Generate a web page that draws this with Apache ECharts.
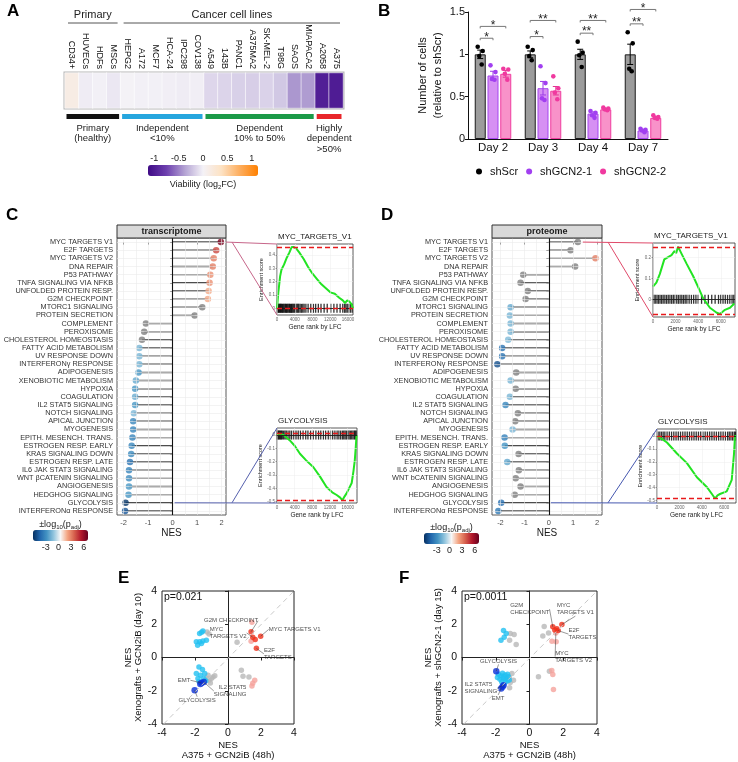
<!DOCTYPE html>
<html lang="en">
<head>
<meta charset="utf-8">
<title>GCN2 dependency figure</title>
<script src="https://cdn.jsdelivr.net/npm/echarts@6.0.0/dist/echarts.min.js"></script>
<style>
  html, body { margin: 0; padding: 0; background: #fff; }
  #chart { width: 738px; height: 762px; }
</style>
</head>
<body>
<div id="chart"></div>
<script>
// ---------- A: viability of cell lines ----------
const cellLines = ['CD34+', 'HUVECs', 'HDFs', 'MSCs', 'HEPG2', 'A172', 'MCF7', 'HCA-24', 'IPC298', 'COV138',
  'A549', '143B', 'PANC1', 'A375MA2', 'SK-MEL-2', 'T98G', 'SAOS', 'MIAPACA2', 'A2058', 'A375'];
const viability = [0.14, -0.03, -0.01, -0.05, 0.01, -0.01, -0.01, -0.02, -0.03, -0.02,
  -0.13, -0.14, -0.16, -0.17, -0.15, -0.2, -0.42, -0.4, -0.98, -1.0];
const originGroups = ['Primary', 'Cancer cell lines'];
const originSpans = [[0, 3], [4, 19]];
const dependencyGroups = ['Primary\n(healthy)', 'Independent\n<10%', 'Dependent\n10% to 50%', 'Highly\ndependent\n>50%'];
const dependencySpans = [[0, 3], [4, 9], [10, 17], [18, 19]];
const viabilityTicks = [-1, -0.5, 0, 0.5, 1];

// ---------- B: cell counts ----------
const days = ['Day 2', 'Day 3', 'Day 4', 'Day 7'];
const shScrMean = [1, 1, 1, 1];
const shScrSem = [0.05, 0.04, 0.06, 0.12];
const shScrDots = [[1.09, 1.04, 0.98, 0.88], [1.09, 1.05, 0.98, 0.93], [1.15, 1.02, 0.99, 0.85], [1.26, 1.13, 0.83, 0.80]];
const gcn1Mean = [0.75, 0.60, 0.30, 0.10];
const gcn1Sem = [0.05, 0.08, 0.02, 0.01];
const gcn1Dots = [[0.87, 0.79, 0.71, 0.70], [0.86, 0.66, 0.48, 0.46], [0.33, 0.31, 0.28, 0.25], [0.12, 0.11, 0.10, 0.08]];
const gcn2Mean = [0.77, 0.57, 0.35, 0.25];
const gcn2Sem = [0.04, 0.05, 0.01, 0.01];
const gcn2Dots = [[0.83, 0.82, 0.77, 0.70], [0.74, 0.60, 0.55, 0.47], [0.37, 0.36, 0.35, 0.34], [0.28, 0.26, 0.25, 0.24]];
const sigDay = [0, 0, 1, 1, 2, 2, 3, 3];
const sigTo = [1, 2, 1, 2, 1, 2, 1, 2];
const sigY = [1.19, 1.33, 1.21, 1.40, 1.25, 1.40, 1.36, 1.53];
const sigText = ['*', '*', '*', '**', '**', '**', '**', '*'];

// ---------- C / D: hallmark NES ----------
const pathwaysC = ['MYC TARGETS V1', 'E2F TARGETS', 'MYC TARGETS V2', 'DNA REPAIR', 'P53 PATHWAY', 'TNFA SIGNALING VIA NFKB',
  'UNFOLDED PROTEIN RESP.', 'G2M CHECKPOINT', 'MTORC1 SIGNALING', 'PROTEIN SECRETION', 'COMPLEMENT', 'PEROXISOME',
  'CHOLESTEROL HOMEOSTASIS', 'FATTY ACID METABOLISM', 'UV RESPONSE DOWN', 'INTERFERONγ RESPONSE', 'ADIPOGENESIS',
  'XENOBIOTIC METABOLISM', 'HYPOXIA', 'COAGULATION', 'IL2 STAT5 SIGNALING', 'NOTCH SIGNALING', 'APICAL JUNCTION',
  'MYOGENESIS', 'EPITH. MESENCH. TRANS.', 'ESTROGEN RESP. EARLY', 'KRAS SIGNALING DOWN', 'ESTROGEN RESP. LATE',
  'IL6 JAK STAT3 SIGNALING', 'WNT βCATENIN SIGNALING', 'ANGIOGENESIS', 'HEDGHOG SIGNALING', 'GLYCOLYSIS', 'INTERFERONα RESPONSE'];
const pathwaysD = pathwaysC.map(p => p === 'WNT βCATENIN SIGNALING' ? 'WNT bCATENIN SIGNALING' : p);
const nesTranscriptome = [1.97, 1.78, 1.68, 1.64, 1.54, 1.51, 1.47, 1.44, 1.21, 0.90, -1.09, -1.16, -1.25, -1.36, -1.36, -1.36,
  -1.39, -1.50, -1.53, -1.53, -1.53, -1.58, -1.61, -1.61, -1.64, -1.67, -1.69, -1.74, -1.78, -1.78, -1.78, -1.80, -1.92, -1.94];
const padjTranscriptome = [6.5, 4.3, 3.0, 3.0, 2.6, 2.6, 2.0, 2.0, 1.0, 0.7, -0.8, -0.9, -1.0, -1.6, -1.6, -1.6,
  -2.6, -2.0, -2.6, -1.9, -2.6, -1.5, -3.2, -3.2, -3.3, -3.2, -3.0, -3.8, -3.3, -3.0, -2.6, -2.6, -5.8, -4.8];
const nesProteome = [1.20, 0.90, 1.93, 1.09, -1.06, -1.17, -0.87, -0.96, -1.58, -1.61, -1.58, -1.58, -1.68, -1.93, -1.93, -2.13,
  -1.35, -1.58, -1.37, -1.61, -1.79, -1.28, -1.39, -1.50, -1.83, -1.82, -1.25, -1.72, -1.24, -1.37, -1.17, -1.41, -1.97, -2.09];
const padjProteome = [1.0, 0.8, 3.0, 1.0, -0.9, -1.0, -0.7, -0.8, -2.0, -1.6, -1.6, -1.6, -1.45, -3.8, -3.8, -5.0,
  -1.0, -1.6, -1.0, -1.6, -3.2, -0.9, -1.0, -1.5, -3.4, -2.7, -0.9, -2.1, -0.9, -1.0, -0.8, -1.0, -4.0, -3.6];
const nesTicks = [-2, -1, 0, 1, 2];
const nesGrid = [-2, -1.5, -1, -0.5, 0.5, 1, 1.5, 2];
const padjTicks = [-3, 0, 3, 6];
const PADJ_CUTOFF = 1.3;

// ---------- GSEA insets ----------
const esMycTx = [[0, 0], [300, 0.12], [700, 0.24], [1000, 0.29], [1600, 0.33], [2200, 0.38], [2800, 0.42], [3300, 0.46], [3800, 0.46],
  [4300, 0.45], [5000, 0.42], [6000, 0.37], [7000, 0.31], [8000, 0.26], [9000, 0.22], [10000, 0.18], [11000, 0.15], [12000, 0.12],
  [13000, 0.11], [14000, 0.08], [14800, 0.06], [15300, 0.04], [15800, 0.06], [16300, 0.05], [16800, 0.03], [17100, 0.0]];
const hitsMycTx = [150, 300, 420, 600, 750, 900, 1050, 1250, 1400, 1600, 1800, 1950, 2150, 2300, 2500, 2700, 2850, 3050, 3250,
  3400, 3600, 3800, 4000, 4250, 4500, 4700, 4900, 5200, 5500, 5800, 6100, 6500, 7000, 7600, 8200, 8700, 9300, 9900, 10600,
  11300, 12100, 12800, 13500, 14200, 14800, 15200, 15500, 15800, 16100, 16500, 16900];
const esGlyTx = [[0, 0], [600, 0.01], [1500, 0.0], [2900, -0.04], [4000, -0.08], [5200, -0.14], [6600, -0.19], [8200, -0.24],
  [9700, -0.31], [11200, -0.39], [12500, -0.43], [13500, -0.45], [14300, -0.47], [14800, -0.49], [15300, -0.46], [15700, -0.44],
  [16300, -0.40], [16900, -0.36], [17300, -0.27], [17600, -0.19], [17800, -0.10], [18000, 0]];
const hitsGlyTx = [100, 250, 400, 600, 800, 1000, 1200, 1500, 1800, 2100, 2500, 2900, 3300, 3800, 4300, 4800, 5300, 5900, 6500,
  7000, 7600, 8200, 8800, 9400, 9900, 10500, 11000, 11600, 12100, 12600, 13100, 13600, 14000, 14400, 14800, 15100, 15400,
  15700, 16000, 16300, 16600, 16900, 17200, 17500, 17700, 17900];
const esMycPr = [[0, 0.06], [300, 0.08], [600, 0.12], [1000, 0.19], [1300, 0.2], [1640, 0.21], [1900, 0.23], [2050, 0.22],
  [2220, 0.25], [2500, 0.22], [2970, 0.17], [3560, 0.11], [4150, 0.04], [4440, 0.005], [5040, -0.04], [5640, -0.064],
  [5930, -0.07], [6370, -0.05], [6820, -0.04], [7200, -0.02]];
const hitsMycPr = [80, 200, 350, 480, 620, 760, 900, 1050, 1200, 1350, 1500, 1650, 1800, 1950, 2100, 2250, 2400, 2550, 2700,
  2850, 3000, 3200, 3400, 3600, 3800, 4000, 4300, 4600, 4900, 5200, 5500, 5800, 6000, 6200, 6400, 6600, 6800, 7000, 7150];
const esGlyPr = [[0, 0], [400, -0.02], [890, -0.05], [1780, -0.135], [2670, -0.21], [3560, -0.32], [4440, -0.395], [4900, -0.45],
  [5180, -0.485], [5400, -0.46], [5620, -0.45], [6220, -0.43], [6670, -0.34], [6870, -0.14], [6960, 0], [7050, 0.0]];
const hitsGlyPr = [100, 250, 400, 550, 700, 900, 1100, 1300, 1500, 1700, 1900, 2100, 2300, 2500, 2700, 2900, 3100, 3300, 3500,
  3700, 3900, 4100, 4300, 4500, 4700, 4900, 5100, 5300, 5500, 5700, 5900, 6100, 6300, 6450, 6600, 6750, 6900, 7000];
const rankTicksTx = [0, 4000, 8000, 12000, 16000];
const rankTicksPr = [0, 2000, 4000, 6000];

// ---------- E / F: xenograft vs in vitro NES ----------
const eUp = [[1.40, 1.55], [1.98, 1.28], [1.65, 1.08], [1.50, 1.22], [1.72, 0.55]];
const eUpLight = [[1.45, 2.12], [1.40, 0.98], [1.62, -1.37], [1.50, -1.55], [1.45, -1.72]];
const eNs = [[-1.27, 1.54], [-1.15, 1.42], [0.55, 0.92], [0.81, -0.77], [0.91, -1.13], [1.27, -1.17], [-1.15, -1.37],
  [-1.01, -1.27], [-0.91, -1.17], [-1.21, -1.07], [-0.80, -1.10], [-1.07, -1.53], [-1.30, -1.25]];
const eDown = [[-1.52, 1.60], [-1.72, 1.45], [-1.60, 1.52], [-1.92, 0.94], [-1.72, 0.94], [-1.52, 1.0], [-1.31, 1.04],
  [-1.61, 0.84], [-1.84, 0.74], [-1.76, -0.57], [-1.55, -0.72], [-1.92, -0.96], [-1.67, -1.07], [-1.41, -0.96],
  [-1.82, -1.27], [-1.47, -1.27], [-1.35, -1.40], [-1.75, -1.45]];
const eDownStrong = [[-1.61, -1.53], [-1.47, -1.47], [-1.68, -1.60], [-2.02, -1.97]];
const fUp = [[1.38, 1.85], [1.62, 1.73], [1.92, 1.99], [1.70, 1.62], [1.50, 1.65]];
const fUpLight = [[1.56, 1.47], [1.33, 0.98], [1.58, 0.95], [1.32, -0.78], [1.38, -1.02], [1.42, -1.92]];
const fNs = [[0.87, 1.87], [0.79, 1.29], [1.13, 1.48], [0.53, -1.16], [1.18, -0.82], [-1.14, 1.44], [-0.91, 1.38], [-1.18, 1.04],
  [-0.79, 0.78], [-1.04, -0.96], [-1.14, -1.5], [-0.95, -1.36], [-1.18, -1.82], [-1.2, -1.2]];
const fDown = [[-1.54, 1.63], [-1.38, 1.44], [-1.69, 1.04], [-1.50, 1.22], [-1.85, -1.0], [-1.7, -1.1], [-1.6, -0.95],
  [-1.45, -1.05], [-1.3, -1.0], [-1.75, -1.3], [-1.55, -1.25], [-1.4, -1.3], [-1.25, -1.15], [-1.65, -1.45], [-1.45, -1.5],
  [-1.3, -1.4], [-1.9, -1.2], [-1.2, -1.35], [-1.55, -1.15]];
const fDownStrong = [[-1.97, -0.82], [-1.54, -1.66], [-1.68, -1.86], [-1.60, -1.75]];

// ---------- style ----------
const FONT = '"Liberation Sans", Arial, Helvetica, sans-serif';
const RDBU = ['#053061', '#2166ac', '#4393c3', '#92c5de', '#f7f7f7', '#f4a582', '#d6604d', '#b2182b', '#67001f'];
const PURPLE_ORANGE = ['#3f0a86', '#6d3fae', '#b3a2d3', '#f4f2f7', '#fde2c4', '#fdae5f', '#ff8000'];
const DEP_COLORS = ['#111111', '#26a6de', '#1b9a48', '#e8262b'];
const BAR_STEP = 12.8;
const DOT_JITTER = [-2.5, 2.5, -1, 1.5];

const chart = echarts.init(document.getElementById('chart'));
const grids = [], xAxes = [], yAxes = [], series = [], visualMaps = [], graphics = [];

function addPanel(grid, xAxis, yAxis) {
  const gi = grids.length;
  grids.push(grid);
  xAxes.push(Object.assign({ gridIndex: gi }, xAxis));
  yAxes.push(Object.assign({ gridIndex: gi }, yAxis));
  return gi;
}
function addSeries(s) { series.push(s); return series.length - 1; }
function txt(x, y, text, o) {
  return { type: 'text', x, y, silent: true, z: 20,
    style: Object.assign({ text, fill: '#1a1a1a', fontSize: 9, fontFamily: FONT, align: 'left', verticalAlign: 'middle' }, o || {}) };
}
function gridLineSeries(ai, xs, ys, color, width, z) {
  const data = xs.map(v => ({ xAxis: v })).concat(ys.map(v => ({ yAxis: v })));
  return { type: 'line', xAxisIndex: ai, yAxisIndex: ai, data: [], z: z || 1, silent: true,
    markLine: { silent: true, symbol: 'none', animation: false, label: { show: false },
      lineStyle: { color, width, type: 'solid' }, data } };
}
const hiddenValueAxis = { type: 'value', show: false, min: 0, max: 1 };
const subRich = { sub: { fontSize: 6, verticalAlign: 'bottom', padding: [4, 0, 0, 0] } };

// ================= A =================
const gA = addPanel({ left: 65, top: 73, width: 278, height: 35, show: true, borderColor: '#b5b5b5', borderWidth: 3 },
  { type: 'category', data: cellLines, position: 'top', axisLine: { show: false }, axisTick: { show: false },
    axisLabel: { rotate: 90, interval: 0, fontSize: 9, margin: 4, color: '#111' } },
  { type: 'category', data: ['viability'], show: false });
const sHeat = addSeries({ type: 'heatmap', xAxisIndex: gA, yAxisIndex: gA, data: viability.map((v, i) => [i, 0, v]),
  itemStyle: { borderColor: '#ffffff', borderWidth: 0.6 }, emphasis: { disabled: true } });
visualMaps.push({ type: 'continuous', seriesIndex: sHeat, min: -1.13, max: 1.13, orient: 'horizontal', left: 148, top: 165,
  itemWidth: 11, itemHeight: 110, calculable: false, padding: 0, inRange: { color: PURPLE_ORANGE } });
addSeries({ type: 'custom', xAxisIndex: gA, yAxisIndex: gA, clip: false, silent: true, z: 5,
  data: originSpans.map(s => [s[0], 0, s[1]]),
  renderItem(params, api) {
    const cs = params.coordSys, band = api.size([1, 0])[0];
    const x1 = api.coord([api.value(0), 0])[0] - band / 2 + 3;
    const x2 = api.coord([api.value(2), 0])[0] + band / 2 - 3;
    const y = cs.y - 50;
    return { type: 'group', children: [
      { type: 'line', shape: { x1, y1: y, x2, y2: y }, style: { stroke: '#555', lineWidth: 1 } },
      { type: 'text', x: (x1 + x2) / 2, y: y - 3, style: { text: originGroups[params.dataIndex], fill: '#222', fontSize: 11,
        fontFamily: FONT, align: 'center', verticalAlign: 'bottom' } }
    ] };
  } });
addSeries({ type: 'custom', xAxisIndex: gA, yAxisIndex: gA, clip: false, silent: true, z: 5,
  data: dependencySpans.map(s => [s[0], 0, s[1]]),
  renderItem(params, api) {
    const cs = params.coordSys, band = api.size([1, 0])[0];
    const x1 = api.coord([api.value(0), 0])[0] - band / 2 + 1.5;
    const x2 = api.coord([api.value(2), 0])[0] + band / 2 - 1.5;
    const y = cs.y + cs.height + 6;
    return { type: 'group', children: [
      { type: 'rect', shape: { x: x1, y, width: x2 - x1, height: 5 }, style: { fill: DEP_COLORS[params.dataIndex] } },
      { type: 'text', x: (x1 + x2) / 2, y: y + 9, style: { text: dependencyGroups[params.dataIndex], fill: '#222', fontSize: 9.5,
        lineHeight: 10.5, fontFamily: FONT, align: 'center', verticalAlign: 'top' } }
    ] };
  } });
addPanel({ left: 148, top: 165, width: 110, height: 11 },
  { type: 'value', min: -1.13, max: 1.13, position: 'top', axisLine: { show: false }, splitLine: { show: false },
    axisTick: { show: false }, axisLabel: { customValues: viabilityTicks, fontSize: 9, margin: 2, color: '#222' } },
  hiddenValueAxis);

// ================= B =================
const gB = addPanel({ left: 468, top: 12, width: 200, height: 127 },
  { type: 'category', data: days, axisLine: { lineStyle: { color: '#111' } }, axisTick: { show: false },
    axisLabel: { fontSize: 11.5, color: '#111', margin: 3 } },
  { type: 'value', min: 0, max: 1.5, interval: 0.5, axisLine: { show: true, lineStyle: { color: '#111' } },
    axisTick: { show: true, length: 3, lineStyle: { color: '#111' } }, axisLabel: { fontSize: 11, color: '#111', margin: 3 },
    splitLine: { show: false }, name: 'Number of cells\n(relative to shScr)', nameLocation: 'middle', nameGap: 21,
    nameTextStyle: { fontSize: 11, lineHeight: 15, color: '#111' } });
const groupsB = [
  { name: 'shScr', mean: shScrMean, sem: shScrSem, dots: shScrDots, fill: '#9c9c9c', border: '#1a1a1a', dot: '#000000', err: '#000000' },
  { name: 'shGCN2-1', mean: gcn1Mean, sem: gcn1Sem, dots: gcn1Dots, fill: '#d690f3', border: '#a546ee', dot: '#a13ff0', err: '#9b3be6' },
  { name: 'shGCN2-2', mean: gcn2Mean, sem: gcn2Sem, dots: gcn2Dots, fill: '#f892c9', border: '#ef3d9f', dot: '#f0399f', err: '#e33593' }
];
groupsB.forEach(g => addSeries({ type: 'bar', name: g.name, xAxisIndex: gB, yAxisIndex: gB, data: g.mean, barWidth: 11,
  barGap: '16%', z: 2, itemStyle: { color: g.fill, borderColor: g.border, borderWidth: 1 }, emphasis: { disabled: true } }));
groupsB.forEach((g, gi) => addSeries({ type: 'custom', name: g.name + ' replicates', xAxisIndex: gB, yAxisIndex: gB, z: 3,
  silent: true, clip: false, encode: { x: 0, y: 1 },
  data: days.map((d, i) => [i, g.mean[i], g.sem[i]].concat(g.dots[i])),
  renderItem(params, api) {
    const day = api.value(0), m = api.value(1), s = api.value(2);
    const top = api.coord([day, m + s]), bot = api.coord([day, m - s]);
    const x = top[0] + (gi - 1) * BAR_STEP;
    const st = { stroke: g.err, lineWidth: 1 };
    const children = [
      { type: 'line', shape: { x1: x, y1: top[1], x2: x, y2: bot[1] }, style: st },
      { type: 'line', shape: { x1: x - 3, y1: top[1], x2: x + 3, y2: top[1] }, style: st },
      { type: 'line', shape: { x1: x - 3, y1: bot[1], x2: x + 3, y2: bot[1] }, style: st }
    ];
    for (let k = 0; k < 4; k++) {
      const p = api.coord([day, api.value(3 + k)]);
      children.push({ type: 'circle', shape: { cx: x + DOT_JITTER[k], cy: p[1], r: 2.3 }, style: { fill: g.dot } });
    }
    return { type: 'group', children };
  } }));
addSeries({ type: 'custom', name: 'significance', xAxisIndex: gB, yAxisIndex: gB, z: 4, silent: true, clip: false,
  encode: { x: 0, y: 1 }, data: sigDay.map((d, i) => [d, sigY[i], sigTo[i]]),
  renderItem(params, api) {
    const p = api.coord([api.value(0), api.value(1)]);
    const x1 = p[0] - BAR_STEP, x2 = p[0] + (api.value(2) - 1) * BAR_STEP, y = p[1];
    return { type: 'group', children: [
      { type: 'polyline', shape: { points: [[x1, y + 2], [x1, y], [x2, y], [x2, y + 2]] }, style: { stroke: '#777', lineWidth: 1, fill: null } },
      { type: 'text', x: (x1 + x2) / 2, y: y - 1, style: { text: sigText[params.dataIndex], fill: '#222', fontSize: 12,
        fontFamily: FONT, align: 'center', verticalAlign: 'middle' } }
    ] };
  } });

// ================= C / D =================
function lollipopPanel(left, width, xr, pathways, nes, padj, cbLeft, cbTop) {
  const rows = pathways.map((p, i) => i);
  const gi = addPanel({ left, top: 238, width, height: 277, show: true, borderColor: '#5a5a5a', borderWidth: 1 },
    { type: 'value', min: xr[0], max: xr[1], axisLine: { show: false }, splitLine: { show: false },
      axisTick: { customValues: nesTicks, length: 2.5, lineStyle: { color: '#333' } },
      axisLabel: { customValues: nesTicks, fontSize: 7.5, color: '#4d4d4d', margin: 4 },
      name: 'NES', nameLocation: 'middle', nameGap: 13, nameTextStyle: { fontSize: 10, color: '#1a1a1a' } },
    { type: 'value', min: -0.5, max: pathways.length - 0.5, inverse: true, axisLine: { show: false }, splitLine: { show: false },
      axisTick: { customValues: rows, length: 2.5, lineStyle: { color: '#333' } },
      axisLabel: { customValues: rows, formatter: v => pathways[v], fontSize: 7.3, color: '#333', margin: 4 } });
  addSeries(gridLineSeries(gi, nesGrid, rows, '#ebebeb', 0.6, 1));
  addSeries(gridLineSeries(gi, [0], [], '#111', 1.1, 2));
  addSeries({ type: 'custom', xAxisIndex: gi, yAxisIndex: gi, z: 3, silent: true, encode: { x: 0, y: 1 },
    data: nes.map((v, i) => [v, i]),
    renderItem(params, api) {
      const p0 = api.coord([0, api.value(1)]), p1 = api.coord([api.value(0), api.value(1)]);
      return { type: 'line', shape: { x1: p0[0], y1: p0[1], x2: p1[0], y2: p1[1] }, style: { stroke: '#4d4d4d', lineWidth: 1.4 } };
    } });
  const sig = addSeries({ type: 'scatter', xAxisIndex: gi, yAxisIndex: gi, z: 4, symbolSize: 6.5, silent: true,
    data: nes.map((v, i) => [v, i, padj[i]]).filter(d => Math.abs(d[2]) >= PADJ_CUTOFF) });
  addSeries({ type: 'scatter', xAxisIndex: gi, yAxisIndex: gi, z: 4, symbolSize: 6.5, silent: true, itemStyle: { color: '#808080' },
    data: nes.map((v, i) => [v, i, padj[i]]).filter(d => Math.abs(d[2]) < PADJ_CUTOFF) });
  visualMaps.push({ type: 'continuous', seriesIndex: sig, dimension: 2, min: -6, max: 7, orient: 'horizontal', left: cbLeft,
    top: cbTop, itemWidth: 11, itemHeight: 55, calculable: false, padding: 0, inRange: { color: RDBU } });
  addPanel({ left: cbLeft, top: cbTop, width: 55, height: 11 },
    { type: 'value', min: -6, max: 7, axisLine: { show: false }, splitLine: { show: false }, axisTick: { show: false },
      axisLabel: { customValues: padjTicks, fontSize: 9, margin: 2, color: '#222' } },
    hiddenValueAxis);
  graphics.push(
    { type: 'rect', silent: true, z: 20, shape: { x: left, y: 225, width, height: 13 }, style: { fill: '#d9d9d9', stroke: '#333', lineWidth: 1 } },
    txt(left + width / 2, 231.5, gi === 3 ? 'transcriptome' : 'proteome', { align: 'center', fontWeight: 'bold', fontSize: 9 }),
    txt(cbLeft + 27.5, cbTop - 5, '±log{sub|10}(p{sub|adj})', { align: 'center', rich: subRich, fontSize: 9 })
  );
  return gi;
}
const gC = lollipopPanel(117, 109, [-2.27, 2.18], pathwaysC, nesTranscriptome, padjTranscriptome, 33, 530);
const gD = lollipopPanel(492, 110, [-2.35, 2.2], pathwaysD, nesProteome, padjProteome, 424, 533);

// ================= GSEA insets =================
const insets = [
  { rect: { left: 277, top: 244, width: 76, height: 71 }, title: 'MYC_TARGETS_V1', xr: [0, 17100], xt: rankTicksTx,
    yr: [-0.05, 0.483], yt: [0, 0.1, 0.2, 0.3, 0.4], es: esMycTx, hits: hitsMycTx },
  { rect: { left: 277, top: 428, width: 80, height: 75 }, title: 'GLYCOLYSIS', xr: [0, 18100], xt: rankTicksTx,
    yr: [-0.51, 0.053], yt: [0, -0.1, -0.2, -0.3, -0.4, -0.5], es: esGlyTx, hits: hitsGlyTx },
  { rect: { left: 653, top: 243, width: 82, height: 74 }, title: 'MYC_TARGETS_V1', xr: [0, 7260], xt: rankTicksPr,
    yr: [-0.084, 0.268], yt: [0, 0.1, 0.2], es: esMycPr, hits: hitsMycPr },
  { rect: { left: 657, top: 429, width: 79, height: 74 }, title: 'GLYCOLYSIS', xr: [0, 7050], xt: rankTicksPr,
    yr: [-0.52, 0.055], yt: [0, -0.1, -0.2, -0.3, -0.4, -0.5], es: esGlyPr, hits: hitsGlyPr }
];
insets.forEach(ins => {
  const small = { fontSize: 4.5, color: '#666', margin: 2, formatter: v => String(v) };
  const gi = addPanel(Object.assign({ show: true, borderColor: '#333', borderWidth: 0.8 }, ins.rect),
    { type: 'value', min: ins.xr[0], max: ins.xr[1], axisLine: { show: false }, splitLine: { show: false },
      axisTick: { customValues: ins.xt, length: 1.5, lineStyle: { color: '#555', width: 0.5 } },
      axisLabel: Object.assign({ customValues: ins.xt }, small),
      name: 'Gene rank by LFC', nameLocation: 'middle', nameGap: 9, nameTextStyle: { fontSize: 6.5, color: '#222' } },
    { type: 'value', min: ins.yr[0], max: ins.yr[1], axisLine: { show: false }, splitLine: { show: false },
      axisTick: { customValues: ins.yt, length: 1.5, lineStyle: { color: '#555', width: 0.5 } },
      axisLabel: Object.assign({ customValues: ins.yt }, small),
      name: 'Enrichment score', nameLocation: 'middle', nameGap: 7.5, nameTextStyle: { fontSize: 5.5, color: '#222' } });
  addSeries(gridLineSeries(gi, ins.xt, ins.yt, '#ececec', 0.5, 1));
  addSeries({ type: 'scatter', xAxisIndex: gi, yAxisIndex: gi, z: 3, silent: true, symbol: 'rect', symbolSize: [1.3, 9],
    itemStyle: { color: '#000' }, data: ins.hits.map(r => [r, 0]),
    markLine: { silent: true, symbol: 'none', animation: false, label: { show: false },
      lineStyle: { color: '#000', width: 0.8, type: 'solid' }, data: [{ yAxis: 0 }] } });
  addSeries({ type: 'line', xAxisIndex: gi, yAxisIndex: gi, z: 4, silent: true, showSymbol: false, data: ins.es,
    lineStyle: { color: '#22e422', width: 2 },
    markLine: { silent: true, symbol: 'none', animation: false, label: { show: false },
      lineStyle: { color: '#e8191b', width: 1.4, type: [5, 3] }, data: [{ type: 'max' }, { type: 'min' }] } });
  graphics.push(txt(ins.rect.left + 1, ins.rect.top - 7.5, ins.title, { fontSize: 8, fill: '#222' }));
});

// ================= E / F =================
function scatterPanel(left, width, height, yName, sets, annotations) {
  const axisBase = { type: 'value', min: -4, max: 4, interval: 2, axisLine: { show: true, lineStyle: { color: '#222' } },
    axisTick: { show: true, length: 3, lineStyle: { color: '#222' } }, splitLine: { show: false },
    nameLocation: 'middle', nameTextStyle: { fontSize: 9.5, lineHeight: 10.5, color: '#111' } };
  const gi = addPanel({ left, top: 591, width, height, show: true, borderColor: '#222', borderWidth: 1 },
    Object.assign({}, axisBase, { name: 'NES\nA375 + GCN2iB (48h)', nameGap: 14, axisLabel: { fontSize: 10.5, color: '#111', margin: 4 } }),
    Object.assign({}, axisBase, { name: 'NES\n' + yName, nameGap: 18, axisLabel: { fontSize: 10.5, color: '#111', margin: 5 } }));
  addSeries({ type: 'line', xAxisIndex: gi, yAxisIndex: gi, data: [], z: 1, silent: true,
    markLine: { silent: true, symbol: 'none', animation: false, label: { show: false },
      lineStyle: { color: '#c9c9c9', width: 1, type: [5, 4] }, data: [[{ coord: [-3.9, -4] }, { coord: [4, 4] }]] } });
  const styles = [['ns', '#b8b8b8', 5.5], ['upLight', '#f5a39c', 5.5], ['up', '#f0301a', 5.5], ['down', '#22c1f1', 5.5], ['downStrong', '#0a2fd8', 6.5]];
  styles.forEach(s => addSeries({ type: 'scatter', xAxisIndex: gi, yAxisIndex: gi, z: 3, silent: true, symbolSize: s[2],
    itemStyle: { color: s[1] }, data: sets[s[0]] }));
  addSeries({ type: 'scatter', xAxisIndex: gi, yAxisIndex: gi, z: 5, silent: true, symbolSize: 0.1,
    itemStyle: { color: 'rgba(0,0,0,0)' },
    data: annotations.map(a => ({ value: sets[a.set][a.i], name: a.text })),
    label: { show: true, position: 'inside', formatter: '{b}', fontSize: 6, lineHeight: 7, color: '#222', fontFamily: FONT },
    labelLine: { show: true, lineStyle: { color: '#333', width: 0.5 } },
    labelLayout: p => { const a = annotations[p.dataIndex]; return { dx: a.dx, dy: a.dy, align: a.align, verticalAlign: 'middle' }; } });
  return gi;
}
scatterPanel(162, 132, 133, 'Xenografts + GCN2iB (day 10)',
  { up: eUp, upLight: eUpLight, ns: eNs, down: eDown, downStrong: eDownStrong },
  [{ set: 'up', i: 0, text: 'G2M CHECKPOINT', align: 'center', dx: -20, dy: -11 },
   { set: 'up', i: 3, text: 'MYC\nTARGETS V2', align: 'left', dx: -43, dy: -4.3 },
   { set: 'up', i: 1, text: 'MYC TARGETS V1', align: 'left', dx: 8, dy: -6.8 },
   { set: 'up', i: 4, text: 'E2F\nTARGETS', align: 'left', dx: 7.5, dy: 5.5 },
   { set: 'downStrong', i: 0, text: 'EMT', align: 'right', dx: -11, dy: -2.7 },
   { set: 'downStrong', i: 1, text: 'IL2 STAT5\nSIGNALING', align: 'right', dx: 42.7, dy: 9 },
   { set: 'downStrong', i: 3, text: 'GLYCOLYSIS', align: 'center', dx: 2.5, dy: 10 }]);
scatterPanel(462, 135, 134, 'Xenografts + shGCN2-1 (day 15)',
  { up: fUp, upLight: fUpLight, ns: fNs, down: fDown, downStrong: fDownStrong },
  [{ set: 'up', i: 0, text: 'G2M\nCHECKPOINT', align: 'left', dx: -42.6, dy: -17.6 },
   { set: 'up', i: 2, text: 'MYC\nTARGETS V1', align: 'left', dx: -5, dy: -15.3 },
   { set: 'up', i: 3, text: 'E2F\nTARGETS', align: 'left', dx: 10.3, dy: 3.5 },
   { set: 'upLight', i: 0, text: 'MYC\nTARGETS V2', align: 'left', dx: -0.7, dy: 23.5 },
   { set: 'downStrong', i: 0, text: 'GLYCOLYSIS', align: 'center', dx: 2.3, dy: -10.3 },
   { set: 'downStrong', i: 1, text: 'IL2 STAT5\nSIGNALING', align: 'left', dx: -39, dy: 3 },
   { set: 'downStrong', i: 2, text: 'EMT', align: 'center', dx: -3, dy: 10 }]);

// ================= labels =================
const letter = { fontSize: 17, fontWeight: 'bold', fill: '#000', verticalAlign: 'top' };
graphics.push(
  txt(7, 3, 'A', letter), txt(378, 3, 'B', letter), txt(6, 207, 'C', letter), txt(381, 207, 'D', letter),
  txt(118, 570, 'E', letter), txt(399, 570, 'F', letter),
  txt(203, 185, 'Viability (log{sub|2}FC)', { align: 'center', rich: subRich }),
  txt(164, 597, 'p=0.021', { fontSize: 10.5, fill: '#111' }),
  txt(464, 597, 'p=0.0011', { fontSize: 10.5, fill: '#111' })
);

const option = {
  animation: false,
  backgroundColor: '#ffffff',
  textStyle: { fontFamily: FONT },
  grid: grids, xAxis: xAxes, yAxis: yAxes, series, visualMap: visualMaps,
  legend: { top: 161, left: 471, itemWidth: 12, itemHeight: 6, itemGap: 8, selectedMode: false,
    textStyle: { fontSize: 11, color: '#111' },
    data: groupsB.map(g => ({ name: g.name, icon: 'circle', itemStyle: { color: g.dot, borderWidth: 0 } })) },
  graphic: graphics
};
chart.setOption(option);

// zoom connectors from lollipop rows to the GSEA insets
function toPx(ai, v) { return chart.convertToPixel({ xAxisIndex: ai, yAxisIndex: ai }, v); }
function connectors(ai, panelRight, topRow, bottomRow, insTop, insBottom, topColor, bottomColor) {
  const pTop = toPx(ai, [topRow[0], topRow[1]]);
  const pZero = toPx(ai, [0, bottomRow]);
  const rT = insTop.rect, rB = insBottom.rect;
  const line = (pts, c) => ({ type: 'polyline', silent: true, z: 15, shape: { points: pts }, style: { stroke: c, lineWidth: 1, fill: null } });
  return [
    line([[pTop[0] + 5, pTop[1]], [rT.left, rT.top]], topColor),
    line([[panelRight + 6, pTop[1]], [rT.left, rT.top + rT.height]], topColor),
    line([[pZero[0] + 2, pZero[1]], [rB.left, rB.top + rB.height]], bottomColor),
    line([[panelRight + 6, pZero[1]], [rB.left, rB.top]], bottomColor)
  ];
}
const glyRow = pathwaysC.indexOf('GLYCOLYSIS');
const extra = connectors(gC, 226, [nesTranscriptome[0], 0], glyRow, insets[0], insets[1], '#c7668a', '#5560ad')
  .concat(connectors(gD, 602, [nesProteome[0], 0], glyRow, insets[2], insets[3], '#e04a6a', '#4658b0'));
option.graphic = graphics.concat(extra);
chart.setOption(option, true);
</script>
</body>
</html>
